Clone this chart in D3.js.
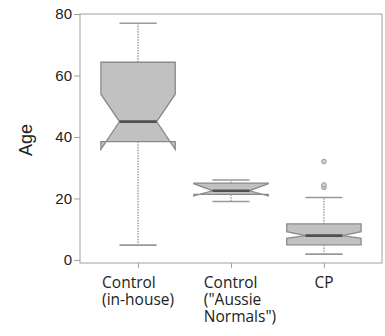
<!DOCTYPE html>
<html lang="en">
<head>
    <meta charset="UTF-8">
    <title>age_boxplot</title>
    <script src="https://cdn.jsdelivr.net/npm/d3@7"></script>
    <style>
        body { margin: 0; background: #fff; }
    </style>
</head>
<body>
    <svg width="385" height="336" id="mainsvg"></svg>
    <script>
        // groups and their five-number summaries
        const groups = [
            ['Control', '(in-house)'],
            ['Control', '("Aussie', 'Normals")'],
            ['CP']
        ];
        const whiskerLow  = [4.8, 19.0, 1.9];
        const q1          = [38.5, 21.3, 4.9];
        const notchLow    = [36.0, 20.8, 7.0];
        const median      = [45.0, 22.5, 7.9];
        const notchHigh   = [53.9, 24.8, 9.2];
        const q3          = [64.3, 25.0, 11.7];
        const whiskerHigh = [77.0, 26.0, 20.3];
        const outliers    = [[], [], [23.6, 24.4, 32.0]];
        const yTicks = [0, 20, 40, 60, 80];

        const svg = d3.select('svg');
        const margin = {top: 14, right: 3, bottom: 73, left: 80};
        const width = +svg.attr('width');
        const height = +svg.attr('height');
        const innerWidth = width - margin.left - margin.right;
        const innerHeight = height - margin.top - margin.bottom;

        const g = svg.append('g')
            .attr('transform', `translate(${margin.left}, ${margin.top})`);

        const data = groups.map((lines, i) => ({
            key: i, lines,
            wl: whiskerLow[i], q1: q1[i], nl: notchLow[i], med: median[i],
            nh: notchHigh[i], q3: q3[i], wh: whiskerHigh[i], out: outliers[i]
        }));

        const xScale = d3.scalePoint().domain(data.map(d => d.key))
            .range([0, innerWidth]).padding(0.625);
        const yScale = d3.scaleLinear().domain([-1, 80]).range([innerHeight, 0]);

        const half = xScale.step() * 0.4;
        const nw = 0.5;

        // frame
        g.append('rect')
            .attr('width', innerWidth).attr('height', innerHeight)
            .attr('fill', 'none').attr('stroke', '#a0a0a0').attr('stroke-width', 1);

        // y axis
        const yAxis = d3.axisLeft(yScale).tickValues(yTicks).tickSize(6).tickPadding(2);
        const yAxisGroup = g.append('g').call(yAxis);
        yAxisGroup.select('.domain').remove();
        yAxisGroup.selectAll('.tick line').attr('stroke', '#a0a0a0');
        yAxisGroup.selectAll('.tick text')
            .attr('font-family', 'Liberation Sans, Arial, sans-serif')
            .attr('font-size', '15px').attr('fill', '#222');

        g.append('text')
            .text('Age')
            .attr('transform', `translate(${-48}, ${innerHeight / 2 + 1.5}) rotate(-90)`)
            .attr('text-anchor', 'middle')
            .attr('font-family', 'Liberation Sans, Arial, sans-serif')
            .attr('font-size', '18px').attr('fill', '#222');

        // x axis
        const xAxis = d3.axisBottom(xScale).tickSize(5).tickFormat('');
        const xAxisGroup = g.append('g').attr('transform', `translate(0, ${innerHeight})`).call(xAxis);
        xAxisGroup.select('.domain').remove();
        xAxisGroup.selectAll('.tick line').attr('stroke', '#a0a0a0');

        // multi-line category labels, one text per line, left aligned per block
        const labelGroups = g.selectAll('.xlabel').data(data).enter().append('g')
            .attr('class', 'xlabel');
        labelGroups.selectAll('text').data(d => d.lines).enter().append('text')
            .text(t => t)
            .attr('y', (t, j) => innerHeight + 25 + j * 17)
            .attr('font-family', 'Open Sans, sans-serif')
            .attr('font-size', '15.5px').attr('fill', '#222');
        labelGroups.each(function(d) {
            const sel = d3.select(this);
            const w = d3.max(sel.selectAll('text').nodes(), n => n.getComputedTextLength());
            const shift = d.lines.length > 2 ? 9 : 0;
            sel.selectAll('text').attr('x', xScale(d.key) - w / 2 + shift);
        });

        // boxes
        const boxes = g.selectAll('.box').data(data).enter().append('g')
            .attr('class', 'box')
            .attr('transform', d => `translate(${xScale(d.key)}, 0)`);

        // whiskers
        boxes.append('line')
            .attr('x1', 0).attr('x2', 0)
            .attr('y1', d => yScale(d.q3)).attr('y2', d => yScale(d.wh))
            .attr('stroke', '#777').attr('stroke-dasharray', '1.5,1.2');
        boxes.append('line')
            .attr('x1', 0).attr('x2', 0)
            .attr('y1', d => yScale(d.q1)).attr('y2', d => yScale(d.wl))
            .attr('stroke', '#777').attr('stroke-dasharray', '1.5,1.2');
        ['wh', 'wl'].forEach(k => {
            boxes.append('line')
                .attr('x1', -half * nw).attr('x2', half * nw)
                .attr('y1', d => yScale(d[k])).attr('y2', d => yScale(d[k]))
                .attr('stroke', '#999').attr('stroke-width', 1.6);
        });

        // notched box
        const line = d3.line();
        boxes.append('path')
            .attr('d', d => {
                const pts = [
                    [-1, d.q1], [1, d.q1], [1, d.nl], [nw, d.med], [1, d.nh], [1, d.q3],
                    [-1, d.q3], [-1, d.nh], [-nw, d.med], [-1, d.nl]
                ].map(p => [p[0] * half, yScale(p[1])]);
                return line(pts) + 'Z';
            })
            .attr('fill', '#c1c1c1').attr('stroke', '#8a8a8a').attr('stroke-width', 1.3)
            .attr('stroke-linejoin', 'miter');

        boxes.append('line')
            .attr('x1', -half * nw).attr('x2', half * nw)
            .attr('y1', d => yScale(d.med)).attr('y2', d => yScale(d.med))
            .attr('stroke', '#505050').attr('stroke-width', 2.6);

        // outliers
        boxes.selectAll('circle').data(d => d.out).enter().append('circle')
            .attr('cx', 0).attr('cy', v => yScale(v)).attr('r', 2.3)
            .attr('fill', '#d0d0d0').attr('stroke', '#999').attr('stroke-width', 1);
    </script>
</body>
</html>
